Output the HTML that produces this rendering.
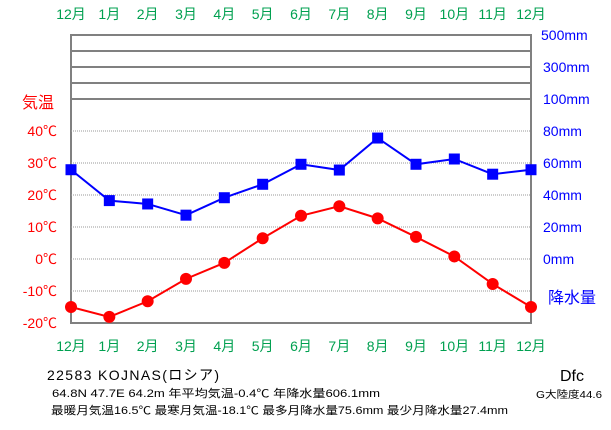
<!DOCTYPE html>
<html><head><meta charset="utf-8"><style>
body{margin:0;background:#fff;width:611px;height:425px;overflow:hidden}
svg text{font-family:"Liberation Sans","Noto Sans CJK JP",sans-serif}
</style></head><body>
<svg width="611" height="425" xmlns="http://www.w3.org/2000/svg">
<g id="grid"></g><g id="series"></g><g id="labels"></g>
<text x="47" y="380" font-size="14" textLength="172" lengthAdjust="spacing">22583  KOJNAS(ロシア)</text>
<text x="52" y="397" font-size="11" textLength="328" lengthAdjust="spacingAndGlyphs">64.8N  47.7E  64.2m  年平均気温-0.4℃  年降水量606.1mm</text>
<text x="51" y="414" font-size="11" textLength="457" lengthAdjust="spacingAndGlyphs">最暖月気温16.5℃ 最寒月気温-18.1℃ 最多月降水量75.6mm 最少月降水量27.4mm</text>
<text x="560" y="381" font-size="16">Dfc</text>
<text x="536" y="398" font-size="10" textLength="66" lengthAdjust="spacingAndGlyphs">G大陸度44.6</text>
</svg>
<script>
const months=["12月","1月","2月","3月","4月","5月","6月","7月","8月","9月","10月","11月","12月"];
const temps=[-15,-18.1,-13.2,-6.2,-1.2,6.5,13.5,16.5,12.7,6.9,0.8,-7.8,-15];
const precip=[55.8,36.5,34.4,27.4,38.3,46.7,59.2,55.6,75.6,59.2,62.5,53,55.8];
const tempTicks=[40,30,20,10,0,-10,-20];
const precipTicks=[80,60,40,20,0];
const logTicks=[100,300,500];
const NS="http://www.w3.org/2000/svg";
const L=71,R=531,T=35,B=323;
const x=i=>L+i*(R-L)/12;
const yT=v=>259-v*3.2;
const yP=v=>v<=100?259-v*1.6:99-(v-100)/100*16;
function mk(tag,attrs,parent){const e=document.createElementNS(NS,tag);for(const k in attrs)e.setAttribute(k,attrs[k]);document.getElementById(parent).appendChild(e);return e;}
let e=mk('rect',{x:L,y:T,width:R-L,height:B-T,fill:'none',stroke:'#808080','stroke-width':2},'grid');


[100,200,300,400].forEach(v=>{const l=mk('line',{x1:L,x2:R,y1:yP(v),y2:yP(v),stroke:'#808080','stroke-width':2},'grid');

});
[40,30,20,10,0,-10].forEach(v=>{const l=mk('line',{x1:L,x2:R,y1:yT(v),y2:yT(v),stroke:'#999','stroke-width':1,'stroke-dasharray':'1,1'},'grid');

});
let pp=mk('polyline',{points:precip.map((v,i)=>x(i)+','+yP(v)).join(' '),fill:'none',stroke:'#0000ff','stroke-width':2},'series');


precip.forEach((v,i)=>{const r=mk('rect',{x:x(i)-5.5,y:yP(v)-5.5,width:11,height:11,fill:'#0000ff'},'series');

});
let tp=mk('polyline',{points:temps.map((v,i)=>x(i)+','+yT(v)).join(' '),fill:'none',stroke:'#ff0000','stroke-width':2},'series');


temps.forEach((v,i)=>{const c=mk('circle',{cx:x(i),cy:yT(v),r:6,fill:'#ff0000'},'series');

});
function txt(s,a,name,color,size,anchor){const t=mk('text',{x:a[0],y:a[1],fill:color,'font-size':size,'text-anchor':anchor||'start'},'labels');t.textContent=s;

return t;}
months.forEach((m,i)=>{txt(m,[x(i),19],'month-label-top','#00a050',14,'middle');txt(m,[x(i),351],'month-label-bottom','#00a050',14,'middle');});
tempTicks.forEach(v=>txt(v+'℃',[57,yT(v)+5],'temp-tick-label','#ff0000',14,'end'));
precipTicks.forEach(v=>txt(v+'mm',[543,yP(v)+5],'precip-tick-label','#0000ff',14));
logTicks.forEach(v=>txt(v+'mm',[v===500?541:543,yP(v)+5],'precip-log-tick-label','#0000ff',14));
txt('気温',[22,108],'temp-axis-title','#ff0000',16);
txt('降水量',[548,303],'precip-axis-title','#0000ff',16);
</script>
</body></html>
